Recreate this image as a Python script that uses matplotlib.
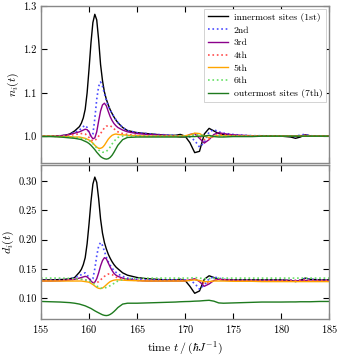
import numpy as np
import matplotlib
matplotlib.use("Agg")
import matplotlib.pyplot as plt

plt.rcParams['font.family'] = ['cmr10', 'DejaVu Serif']
plt.rcParams['mathtext.fontset'] = 'cm'
plt.rcParams['axes.formatter.use_mathtext'] = True

# ---- data ----
t = [155, 156, 157, 157.5, 158, 158.5,
     159.0, 159.2, 159.4, 159.6, 159.8, 160.0, 160.2, 160.4, 160.6, 160.8,
     161.0, 161.2, 161.4, 161.6, 161.8, 162.0, 162.2, 162.4, 162.6, 162.8, 163.0,
     163.5, 164, 165, 166, 167, 168, 169, 169.5, 170, 170.5, 171, 171.5, 172,
     172.5, 173, 173.5, 174, 175, 176, 177, 178, 179, 180, 181, 181.5, 182,
     182.5, 183, 184, 185]

labels = ['innermost sites (1st)', '2nd', '3rd', '4th', '5th', '6th',
          'outermost sites (7th)']

n1 = [1.0, 1.0, 1.001, 1.002, 1.005, 1.012,
      1.022, 1.030, 1.042, 1.062, 1.100, 1.155, 1.215, 1.262, 1.281, 1.268,
      1.222, 1.165, 1.128, 1.102, 1.085, 1.072, 1.061, 1.052, 1.044, 1.037, 1.031,
      1.020, 1.013, 1.008, 1.006, 1.004, 1.002, 1.002, 1.004, 1.0, 0.985, 0.962, 0.965, 1.005,
      1.018, 1.012, 1.006, 1.004, 1.002, 1.0, 1.0, 1.001, 1.001, 1.0, 0.998, 0.995, 0.998,
      1.003, 1.001, 1.0, 1.0]
n2 = [1.0, 1.0, 1.001, 1.002, 1.004, 1.009,
      1.014, 1.018, 1.022, 1.025, 1.020, 1.008, 1.000, 1.005, 1.040, 1.085,
      1.115, 1.125, 1.115, 1.098, 1.082, 1.070, 1.060, 1.052, 1.045, 1.038, 1.032,
      1.020, 1.013, 1.008, 1.006, 1.004, 1.003, 1.002, 1.0, 1.0, 0.998, 0.990, 0.975, 0.985,
      1.010, 1.015, 1.010, 1.007, 1.004, 1.002, 1.001, 1.001, 1.0, 1.0, 1.0, 0.999, 1.003,
      1.004, 1.001, 1.0, 1.0]
n3 = [1.0, 1.0, 1.001, 1.002, 1.004, 1.007,
      1.010, 1.012, 1.014, 1.016, 1.015, 1.010, 1.000, 0.994, 0.996, 1.010,
      1.035, 1.058, 1.072, 1.076, 1.070, 1.057, 1.045, 1.036, 1.029, 1.024, 1.020,
      1.014, 1.010, 1.006, 1.004, 1.003, 1.002, 1.0, 0.998, 0.998, 1.004, 1.006, 0.995, 0.984,
      0.992, 1.004, 1.008, 1.006, 1.003, 1.002, 1.001, 1.0, 1.0, 1.0, 1.0, 1.0, 1.001,
      1.002, 1.001, 1.0, 1.0]
n4 = [1.0, 1.0, 1.0, 1.001, 1.002, 1.004,
      1.005, 1.006, 1.006, 1.005, 1.002, 0.997, 0.992, 0.989, 0.990, 0.994,
      1.000, 1.006, 1.013, 1.019, 1.023, 1.024, 1.024, 1.021, 1.017, 1.013, 1.010,
      1.006, 1.004, 1.002, 1.001, 1.0, 1.0, 1.0, 1.0, 1.0, 1.002, 1.004, 0.998, 0.992,
      0.993, 1.000, 1.004, 1.003, 1.001, 1.0, 1.0, 1.0, 1.0, 1.0, 1.0, 1.0, 1.001,
      1.001, 1.0, 1.0, 1.0]
n5 = [1.0, 1.0, 0.999, 0.999, 0.999, 0.998,
      0.998, 0.997, 0.996, 0.995, 0.993, 0.991, 0.988, 0.984, 0.979, 0.975,
      0.972, 0.972, 0.974, 0.979, 0.986, 0.993, 0.998, 1.002, 1.004, 1.005, 1.004,
      1.003, 1.002, 1.001, 1.0, 1.0, 1.0, 1.0, 1.0, 1.001, 1.003, 1.007, 1.006, 1.000,
      0.997, 1.000, 1.001, 1.001, 1.0, 1.0, 1.0, 1.0, 1.0, 1.0, 1.0, 1.0, 1.0,
      1.0, 1.0, 1.0, 1.0]
n6 = [1.0, 1.0, 0.999, 0.999, 0.998, 0.997,
      0.996, 0.995, 0.994, 0.993, 0.992, 0.990, 0.987, 0.983, 0.978, 0.973,
      0.968, 0.965, 0.963, 0.963, 0.965, 0.969, 0.975, 0.982, 0.988, 0.993, 0.997,
      1.000, 1.001, 1.0, 1.0, 1.0, 1.0, 1.0, 1.0, 1.0, 1.001, 1.003, 1.003, 1.001,
      0.999, 1.0, 1.001, 1.0, 1.0, 1.0, 1.0, 1.0, 1.0, 1.0, 1.0, 1.0, 1.0,
      1.0, 1.0, 1.0, 1.0]
n7 = [0.999, 0.999, 0.998, 0.997, 0.996, 0.995,
      0.993, 0.992, 0.990, 0.988, 0.986, 0.983, 0.979, 0.974, 0.969, 0.963,
      0.958, 0.953, 0.950, 0.948, 0.947, 0.948, 0.951, 0.956, 0.963, 0.971, 0.979,
      0.992, 0.997, 0.998, 0.998, 0.998, 0.998, 0.998, 0.998, 0.998, 0.999, 0.999, 1.0, 1.0,
      1.002, 0.999, 0.998, 0.998, 0.999, 0.999, 0.999, 1.0, 1.0, 1.0, 1.0, 1.0, 1.0,
      1.0, 1.0, 1.0, 1.0]

d1 = [0.131, 0.131, 0.1315, 0.132, 0.133, 0.135,
      0.144, 0.149, 0.157, 0.169, 0.193, 0.227, 0.265, 0.295, 0.307, 0.298,
      0.270, 0.235, 0.211, 0.195, 0.184, 0.175, 0.168, 0.162, 0.157, 0.153, 0.150,
      0.143, 0.139, 0.135, 0.133, 0.132, 0.131, 0.131, 0.132, 0.130, 0.120, 0.108, 0.112, 0.132,
      0.138, 0.135, 0.132, 0.131, 0.131, 0.131, 0.131, 0.131, 0.131, 0.131, 0.130, 0.128, 0.130,
      0.134, 0.132, 0.131, 0.131]
d2 = [0.131, 0.131, 0.1315, 0.132, 0.133, 0.135,
      0.138, 0.140, 0.142, 0.143, 0.140, 0.134, 0.130, 0.133, 0.150, 0.172,
      0.189, 0.195, 0.190, 0.180, 0.170, 0.162, 0.156, 0.151, 0.147, 0.144, 0.141,
      0.137, 0.134, 0.132, 0.131, 0.131, 0.131, 0.131, 0.131, 0.131, 0.130, 0.125, 0.115, 0.122,
      0.133, 0.136, 0.134, 0.132, 0.131, 0.131, 0.131, 0.131, 0.131, 0.131, 0.131, 0.130, 0.131,
      0.133, 0.132, 0.131, 0.131]
d3 = [0.129, 0.129, 0.1295, 0.130, 0.131, 0.132,
      0.134, 0.135, 0.136, 0.137, 0.136, 0.133, 0.129, 0.126, 0.127, 0.133,
      0.143, 0.155, 0.164, 0.169, 0.167, 0.160, 0.153, 0.147, 0.142, 0.139, 0.137,
      0.134, 0.132, 0.130, 0.129, 0.129, 0.129, 0.129, 0.129, 0.129, 0.131, 0.133, 0.128, 0.120,
      0.124, 0.130, 0.132, 0.131, 0.130, 0.129, 0.129, 0.129, 0.129, 0.129, 0.129, 0.129, 0.130,
      0.130, 0.129, 0.129, 0.129]
d4 = [0.130, 0.130, 0.130, 0.1305, 0.131, 0.132,
      0.132, 0.132, 0.132, 0.131, 0.130, 0.128, 0.126, 0.125, 0.125, 0.126,
      0.128, 0.131, 0.134, 0.137, 0.139, 0.141, 0.141, 0.140, 0.138, 0.136, 0.134,
      0.132, 0.131, 0.130, 0.130, 0.130, 0.130, 0.130, 0.130, 0.130, 0.131, 0.132, 0.129, 0.125,
      0.126, 0.130, 0.132, 0.131, 0.130, 0.130, 0.130, 0.130, 0.130, 0.130, 0.130, 0.130, 0.130,
      0.131, 0.130, 0.130, 0.130]
d5 = [0.129, 0.129, 0.129, 0.129, 0.129, 0.129,
      0.129, 0.129, 0.1285, 0.128, 0.1275, 0.127, 0.125, 0.123, 0.1205, 0.118,
      0.1165, 0.116, 0.117, 0.1195, 0.1225, 0.1255, 0.128, 0.1295, 0.1305, 0.131, 0.131,
      0.1305, 0.130, 0.1295, 0.129, 0.129, 0.129, 0.129, 0.129, 0.129, 0.130, 0.131, 0.130, 0.128,
      0.128, 0.129, 0.129, 0.129, 0.1285, 0.1285, 0.1285, 0.128, 0.128, 0.128, 0.128, 0.128, 0.128,
      0.128, 0.128, 0.128, 0.128]
d6 = [0.134, 0.134, 0.134, 0.1338, 0.1335, 0.133,
      0.1325, 0.132, 0.1315, 0.131, 0.130, 0.129, 0.1275, 0.1255, 0.123, 0.1205,
      0.1185, 0.117, 0.1165, 0.117, 0.118, 0.1195, 0.121, 0.123, 0.125, 0.127, 0.129,
      0.1315, 0.133, 0.1335, 0.134, 0.134, 0.134, 0.134, 0.134, 0.134, 0.134, 0.135, 0.134, 0.133,
      0.133, 0.134, 0.134, 0.134, 0.134, 0.134, 0.134, 0.134, 0.134, 0.134, 0.134, 0.134, 0.134,
      0.134, 0.134, 0.134, 0.134]
d7 = [0.094, 0.0935, 0.093, 0.0925, 0.092, 0.091,
      0.0895, 0.0885, 0.0875, 0.0865, 0.085, 0.0835, 0.082, 0.080, 0.078, 0.0762,
      0.0745, 0.0728, 0.0712, 0.0702, 0.0698, 0.0703, 0.0718, 0.074, 0.0768, 0.080, 0.0835,
      0.0895, 0.091, 0.091, 0.0915, 0.092, 0.0925, 0.093, 0.0935, 0.0938, 0.094, 0.0945, 0.0948, 0.0955,
      0.096, 0.0945, 0.0915, 0.091, 0.0915, 0.092, 0.0925, 0.093, 0.093, 0.093, 0.0932, 0.0932, 0.0935,
      0.0935, 0.0935, 0.094, 0.094]

n_all = [n1, n2, n3, n4, n5, n6, n7]
d_all = [d1, d2, d3, d4, d5, d6, d7]

# ---- styles ----
colors = ['black', '#4a4aff', '#8b008b', '#ff4d4d', 'orange', '#66e066', '#1e7a1e']
styles = ['-', ':', '-', ':', '-', ':', '-']

fig = plt.figure(figsize=(3.39, 3.56), dpi=100)
ax1 = fig.add_axes([0.121, 0.542, 0.850, 0.441])
ax2 = fig.add_axes([0.121, 0.104, 0.850, 0.433])

for n, d, c, ls, lab in zip(n_all, d_all, colors, styles, labels):
    lw = 1.0 if ls == '-' else 1.2
    ax1.plot(t, n, ls, color=c, lw=lw, label=lab)
    ax2.plot(t, d, ls, color=c, lw=lw)

ax1.set_xlim(155, 185)
ax2.set_xlim(155, 185)
ax1.set_ylim(0.938, 1.3)
ax2.set_ylim(0.064, 0.328)
ax1.set_yticks([1.0, 1.1, 1.2, 1.3])
ax2.set_yticks([0.10, 0.15, 0.20, 0.25, 0.30])
ax2.set_yticklabels(['0.10', '0.15', '0.20', '0.25', '0.30'])
ax1.set_yticklabels(['1.0', '1.1', '1.2', '1.3'])
ax1.set_xticks(range(155, 186, 5))
ax2.set_xticks(range(155, 186, 5))
ax1.tick_params(labelbottom=False)

for ax in (ax1, ax2):
    ax.tick_params(direction='in', top=True, right=True, length=4, width=0.8,
                   labelsize=7.5, pad=3)
    for sp in ax.spines.values():
        sp.set_color('#888888')
        sp.set_linewidth(1.0)

ax1.set_ylabel(r'$n_i(t)$', fontsize=8.5, labelpad=2)
ax2.set_ylabel(r'$d_i(t)$', fontsize=8.5, labelpad=2)
ax2.set_xlabel(r'time $t\,/\,(\hbar J^{-1})$', fontsize=8.5, labelpad=3)

leg = ax1.legend(loc='upper right', fontsize=7, handlelength=2.0,
                 borderpad=0.4, labelspacing=0.4, handletextpad=0.6,
                 fancybox=False, framealpha=1.0, borderaxespad=0.3)
leg.get_frame().set_edgecolor('#cccccc')
leg.get_frame().set_linewidth(0.6)

fig.savefig('out.png', dpi=100)
